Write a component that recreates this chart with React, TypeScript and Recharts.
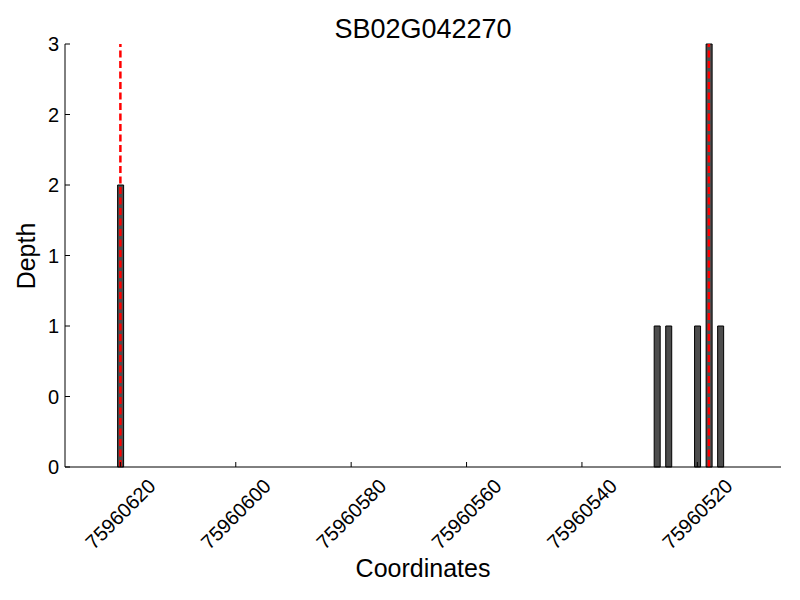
import { ComposedChart, Bar, XAxis, YAxis, ReferenceLine, Label } from 'recharts'

const positions = [75960620, 75960527, 75960525, 75960520, 75960518, 75960516]
const depths = [2, 1, 1, 1, 3, 1]
const markers = [75960620, 75960518]
const xTicks = [75960620, 75960600, 75960580, 75960560, 75960540, 75960520]
const yTicks = [0, 0.5, 1, 1.5, 2, 2.5, 3]
const xDomain = [75960505.5, 75960629.6]

const FONT = '"Liberation Sans", Arial, sans-serif'

const data = positions.map((pos, i) => ({ pos, depth: depths[i] }))

function XTick({ x, y, payload }: any) {
  const cy = y + 47
  return (
    <g>
      <line x1={x} x2={x} y1={y} y2={y - 5} stroke="#000" />
      <text x={x} y={cy} textAnchor="middle" dominantBaseline="central" transform={`rotate(-45 ${x} ${cy})`}
        fontSize={20} fontFamily={FONT} fill="#000">
        {payload.value}
      </text>
    </g>
  )
}

function YTick({ x, y, payload }: any) {
  const ax = x + 6
  return (
    <g>
      <line x1={ax} x2={ax + 5} y1={y} y2={y} stroke="#000" />
      <text x={x} y={y} textAnchor="end" dominantBaseline="central" fontSize={20} fontFamily={FONT} fill="#000">
        {Math.floor(payload.value)}
      </text>
    </g>
  )
}

export default function App() {
  return (
    <div style={{ position: 'absolute', left: 0, top: 0, width: 800, height: 600, background: '#fff' }}>
      <ComposedChart width={800} height={600} data={data} margin={{ top: 44, right: 19, bottom: 0, left: 0 }}>
        <text x={423} y={29} textAnchor="middle" dominantBaseline="central" fontSize={27} fontFamily={FONT} fill="#000">
          SB02G042270
        </text>
        <XAxis dataKey="pos" type="number" domain={xDomain} reversed allowDataOverflow ticks={xTicks}
          tickLine={false} tickSize={0} tickMargin={0} tick={<XTick />} axisLine={{ stroke: '#000' }} height={133}
          interval={0}>
          <Label content={() => (
            <text x={423} y={568} textAnchor="middle" dominantBaseline="central" fontSize={25} fontFamily={FONT} fill="#000">
              Coordinates
            </text>
          )} />
        </XAxis>
        <YAxis type="number" domain={[0, 3]} ticks={yTicks} width={65} tickLine={false} tickSize={0} tickMargin={6}
          tick={<YTick />} axisLine={{ stroke: '#000' }} interval={0}>
          <Label content={() => (
            <text x={26} y={256} textAnchor="middle" dominantBaseline="central" transform="rotate(-90 26 256)"
              fontSize={25} fontFamily={FONT} fill="#000">
              Depth
            </text>
          )} />
        </YAxis>
        <Bar dataKey="depth" barSize={6} fill="#4d4d4d" stroke="#000" strokeWidth={1} isAnimationActive={false} />
        {markers.map(m => (
          <ReferenceLine key={m} x={m} stroke="#ff0000" strokeWidth={2.5} strokeDasharray="7 3.5" />
        ))}
      </ComposedChart>
    </div>
  )
}
